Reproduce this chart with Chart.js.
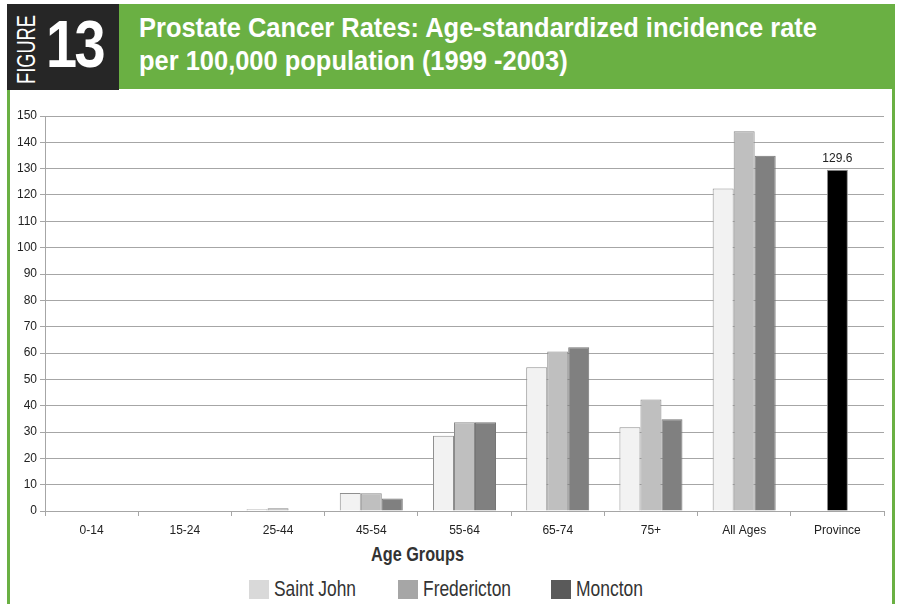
<!DOCTYPE html>
<html>
<head>
<meta charset="utf-8">
<script src="https://cdn.jsdelivr.net/npm/chart.js@4"></script>
<style>
    body { margin: 0; background: #fff; width: 898px; height: 604px; overflow: hidden; position: relative; }
    .txt { font-family: "Liberation Sans", Arial, sans-serif; white-space: nowrap; position: absolute; transform-origin: 0 0; }
    #frame { position: absolute; left: 7px; top: 4px; width: 882px; height: 600px; border-left: 3px solid #6ab043; border-right: 3px solid #6ab043; }
    #header { position: absolute; left: 7px; top: 4px; width: 888px; height: 85px; background: #6ab043; }
    #figbox { position: absolute; left: 7px; top: 4px; width: 112px; height: 86px; background: #262626; }
    #chartWrap { position: absolute; left: 10px; top: 90px; width: 882px; height: 450px; }
    .legBox { position: absolute; width: 20px; height: 19px; top: 580px; }
</style>
</head>
<body>
<div id="frame"></div>
<div id="header"></div>
<div id="figbox"></div>
<div id="texts"></div>
<div id="chartWrap"><canvas id="prostateChart" width="882" height="450"></canvas></div>
<div id="legend"></div>

<script>
// Catégories et valeurs
const ageGroups = ['0-14', '15-24', '25-44', '45-54', '55-64', '65-74', '75+', 'All Ages', 'Province'];
const saintJohn   = [0, 0, 0.7, 6.8, 28.6, 54.6, 31.8, 122.5, null];
const fredericton = [0, 0, 1.0, 6.7, 33.7, 60.6, 42.3, 144.2, null];
const moncton     = [0, 0, 0, 4.7, 33.7, 62.2, 34.8, 134.9, null];
const province    = [null, null, null, null, null, null, null, null, 129.6];
const yTicks = [0, 10, 20, 30, 40, 50, 60, 70, 80, 90, 100, 110, 120, 130, 140, 150];

const titleLines = ['Prostate Cancer Rates: Age-standardized incidence rate', 'per 100,000 population (1999 -2003)'];
const legendLabels = ['Saint John', 'Fredericton', 'Moncton'];
const legendColors = ['#d9d9d9', '#a6a6a6', '#5a5a5a'];

// Placer un texte et le comprimer horizontalement (police étroite absente)
function placeText(str, opts) {
    const el = document.createElement('div');
    el.className = 'txt';
    el.textContent = str;
    el.style.left = opts.left + 'px';
    el.style.top = opts.top + 'px';
    el.style.fontSize = opts.size + 'px';
    el.style.lineHeight = opts.size + 'px';
    el.style.fontWeight = opts.bold ? 'bold' : 'normal';
    el.style.color = opts.color;
    if (opts.spacing) el.style.letterSpacing = opts.spacing + 'px';
    document.getElementById('texts').appendChild(el);
    const sx = opts.scale || (opts.width / el.getBoundingClientRect().width);
    el.style.transform = (opts.rotate ? 'rotate(-90deg) ' : '') + 'scaleX(' + sx + ')';
    return sx;
}

// En-tête
placeText('FIGURE', { left: 14, top: 84, size: 25, width: 69, color: '#fff', rotate: true });
placeText('13', { left: 46, top: 11, size: 66, bold: true, width: 57, color: '#fff', spacing: -3 });
const tScale = placeText(titleLines[0], { left: 139, top: 14, size: 28, bold: true, width: 678, color: '#fff' });
placeText(titleLines[1], { left: 139, top: 47, size: 28, bold: true, scale: tScale, color: '#fff' });

// Titre de l'axe et légende
placeText('Age Groups', { left: 371, top: 543, size: 21, bold: true, width: 93, color: '#333' });
const legLefts = [249, 398, 551];
const legTextW = [82, 88, 67];
legendLabels.forEach((label, i) => {
    const box = document.createElement('div');
    box.className = 'legBox';
    box.style.left = legLefts[i] + 'px';
    box.style.background = legendColors[i];
    document.getElementById('legend').appendChild(box);
    placeText(label, { left: legLefts[i] + 25, top: 578, size: 22, width: legTextW[i], color: '#333' });
});

// Étiquette de valeur au-dessus de la barre Province
const valueLabelPlugin = {
    id: 'valueLabel',
    afterDatasetsDraw(chart) {
        const ctx = chart.ctx;
        const meta = chart.getDatasetMeta(3);
        meta.data.forEach((bar, i) => {
            const v = province[i];
            if (v === null) return;
            ctx.save();
            ctx.font = '12px "Liberation Sans", Arial, sans-serif';
            ctx.fillStyle = '#222';
            ctx.textAlign = 'center';
            ctx.textBaseline = 'bottom';
            ctx.fillText(v.toFixed(1), bar.x, bar.y - 5);
            ctx.restore();
        });
    }
};

const tickFont = { family: '"Liberation Sans", Arial, sans-serif', size: 12 };

new Chart(document.getElementById('prostateChart'), {
    type: 'bar',
    data: {
        labels: ageGroups,
        datasets: [
            { label: 'Saint John', data: saintJohn, backgroundColor: '#f2f2f2', borderColor: '#8f8f8f', borderWidth: 1, borderSkipped: 'start' },
            { label: 'Fredericton', data: fredericton, backgroundColor: '#bfbfbf', borderColor: '#8a8a8a', borderWidth: 1, borderSkipped: 'start' },
            { label: 'Moncton', data: moncton, backgroundColor: '#808080', borderColor: '#767676', borderWidth: 1, borderSkipped: 'start' },
            { label: 'Province', data: province, backgroundColor: '#000000', borderColor: '#8f8f8f', borderWidth: 1, borderSkipped: 'start', grouped: false, maxBarThickness: 21 }
        ]
    },
    options: {
        responsive: false,
        animation: false,
        categoryPercentage: 0.676,
        barPercentage: 1,
        layout: { padding: { left: 0, right: 8, top: 26, bottom: 0 } },
        plugins: {
            legend: { display: false },
            tooltip: { enabled: false }
        },
        scales: {
            x: {
                offset: true,
                grid: { drawOnChartArea: false, drawTicks: true, tickLength: 5, color: '#a6a6a6', offset: true },
                border: { color: '#a6a6a6' },
                ticks: { font: tickFont, color: '#222', padding: 7, maxRotation: 0 },
                afterFit: scale => { scale.height = 29; }
            },
            y: {
                min: 0,
                max: 150,
                afterBuildTicks: scale => { scale.ticks = yTicks.map(v => ({ value: v })); },
                grid: { color: '#a6a6a6', tickLength: 5 },
                border: { color: '#a6a6a6' },
                ticks: { font: tickFont, color: '#222', padding: 3 },
                afterFit: scale => { scale.width = 35; }
            }
        }
    },
    plugins: [valueLabelPlugin]
});
</script>
</body>
</html>
